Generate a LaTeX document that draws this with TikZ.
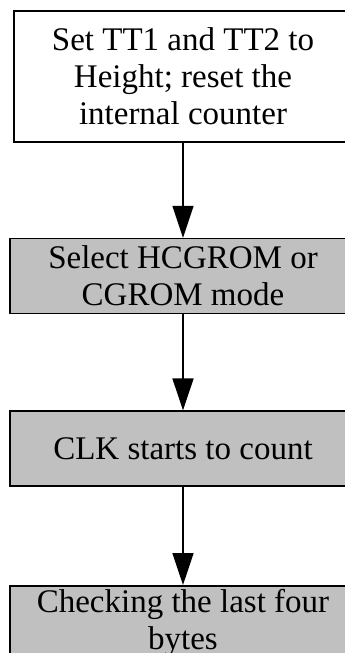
\documentclass[tikz,border=0pt]{standalone}
\usepackage{fontspec}
\setmainfont{Liberation Serif}
\usetikzlibrary{positioning}
\usetikzlibrary{arrows.meta}
\definecolor{stepgray}{RGB}{192,192,192}

\begin{document}
\begin{tikzpicture}[x=1pt,y=1pt,
  stepbox/.style={draw, line width=1.6pt, align=center, inner sep=0pt,
    font=\fontsize{33}{37}\selectfont},
  flow/.style={line width=1.6pt, -{Triangle[length=32pt,width=21pt]}}]
% frame
\useasboundingbox (0,0) rectangle (345,-653);

% steps
\node[stepbox, minimum width=338pt, minimum height=131pt] (reset) at (183,-76.5)
  {Set TT1 and TT2 to\\Height; reset the\\internal counter};
\node[stepbox, fill=stepgray, minimum width=346pt, minimum height=75pt,
  below=95pt of reset] (mode) {Select HCGROM or\\CGROM mode};
\node[stepbox, fill=stepgray, minimum width=346pt, minimum height=75pt,
  below=96pt of mode] (count) {CLK starts to count};
\node[stepbox, fill=stepgray, minimum width=346pt, minimum height=75pt,
  below=98pt of count] (check) {Checking the last four\\bytes};

% arrows
\draw[flow] (reset) -- (mode);
\draw[flow] (mode) -- (count);
\draw[flow] (count) -- (check);

\end{tikzpicture}
\end{document}
